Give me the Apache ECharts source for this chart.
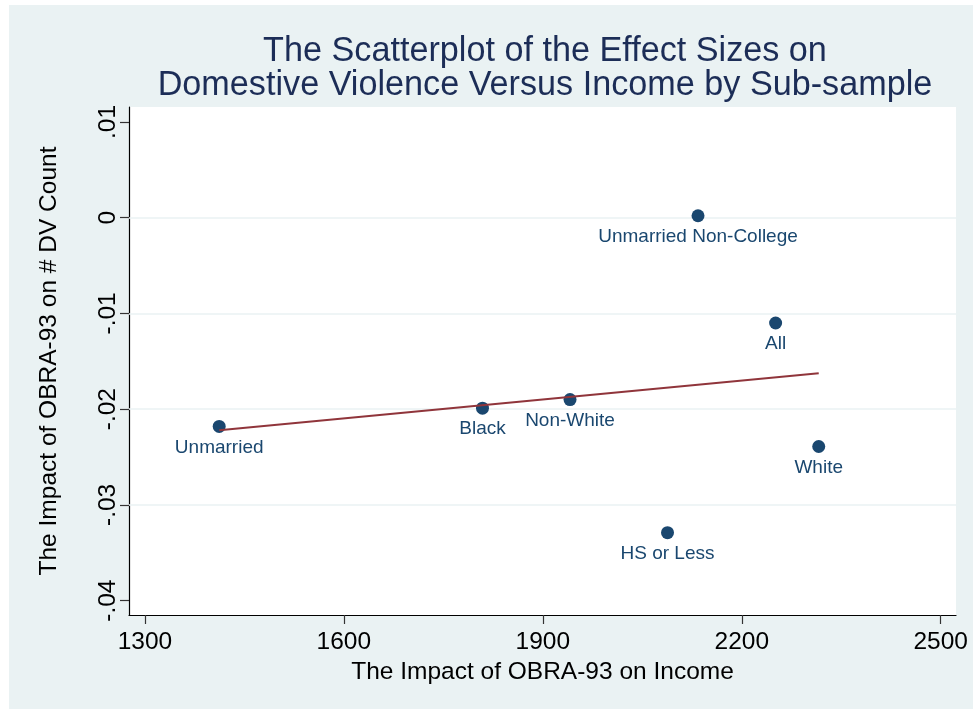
<!DOCTYPE html>
<html>
<head>
<meta charset="utf-8">
<script src="https://cdn.jsdelivr.net/npm/echarts@6/dist/echarts.min.js"></script>
<style>
html,body{margin:0;padding:0;background:#ffffff;width:973px;height:709px;overflow:hidden;}
#chart{position:absolute;left:9px;top:5px;width:964px;height:704px;}
</style>
</head>
<body>
<div id="chart"></div>
<script>
const groups = ['Unmarried', 'Black', 'Non-White', 'Unmarried Non-College', 'All', 'White', 'HS or Less'];
const income = [1412, 1809, 1941, 2134, 2251, 2316, 2088];
const dvImpact = [-0.0218, -0.0199, -0.0190, 0.0002, -0.0110, -0.0239, -0.0329];
const fitIncome = [1412, 2316];
const fitDv = [-0.0222, -0.01625];
const xTicks = [1300, 1600, 1900, 2200, 2500];
const yTicks = [-0.04, -0.03, -0.02, -0.01, 0, 0.01];
const yGrid = [-0.03, -0.02, -0.01, 0];

const FONT = "'Liberation Sans', Helvetica, Arial, sans-serif";
const NAVY = '#1A476F';

function fmtY(v) {
  const r = Math.round(v * 100) / 100;
  if (Math.abs(r) < 1e-9) return '0';
  return (r < 0 ? '-' : '') + Math.abs(r).toFixed(2).replace(/^0/, '');
}

const chart = echarts.init(document.getElementById('chart'));
chart.setOption({
  backgroundColor: '#EAF2F3',
  animation: false,
  textStyle: { fontFamily: FONT },
  title: {
    text: 'The Scatterplot of the Effect Sizes on\nDomestive Violence Versus Income by Sub-sample',
    left: 531,
    top: 25,
    textAlign: 'center',
    textStyle: { fontFamily: FONT, fontSize: 34.2, lineHeight: 34, fontWeight: 'normal', color: '#1C2D57' }
  },
  grid: {
    left: 120, top: 102, width: 827, height: 508,
    show: true, backgroundColor: '#ffffff', borderWidth: 0
  },
  xAxis: {
    type: 'value',
    min: 1276, max: 2523,
    name: 'The Impact of OBRA-93 on Income',
    nameLocation: 'middle',
    nameGap: 38,
    nameTextStyle: { fontFamily: FONT, fontSize: 24.5, color: '#000000' },
    axisLine: { show: true, onZero: false, lineStyle: { color: '#000000', width: 1.2 } },
    axisTick: { show: true, inside: false, length: 9, customValues: xTicks, lineStyle: { color: '#333333', width: 1.2 } },
    axisLabel: { show: true, customValues: xTicks, fontFamily: FONT, fontSize: 24.5, color: '#000000', margin: 15, formatter: v => String(Math.round(v)) },
    splitLine: { show: false }
  },
  yAxis: {
    type: 'value',
    min: -0.0415, max: 0.01156,
    name: 'The Impact of OBRA-93 on # DV Count',
    nameLocation: 'middle',
    nameGap: 67,
    nameRotate: 90,
    nameTextStyle: { fontFamily: FONT, fontSize: 24.5, color: '#000000' },
    axisLine: { show: true, onZero: false, lineStyle: { color: '#000000', width: 1.2 } },
    axisTick: { show: true, inside: false, length: 9, customValues: yTicks, lineStyle: { color: '#333333', width: 1.2 } },
    axisLabel: { show: true, customValues: yTicks, rotate: 90, fontFamily: FONT, fontSize: 24.5, color: '#000000', margin: 8, formatter: fmtY },
    splitLine: { show: false }
  },
  series: [
    {
      type: 'line',
      data: [],
      z: 1,
      silent: true,
      markLine: {
        silent: true,
        z: 1,
        symbol: ['none', 'none'],
        label: { show: false },
        lineStyle: { color: '#EAF2F3', width: 1.5, type: 'solid' },
        data: yGrid.map(v => ({ yAxis: v }))
      }
    },
    {
      type: 'scatter',
      z: 2,
      symbol: 'circle',
      symbolSize: 13,
      itemStyle: { color: NAVY, opacity: 1 },
      label: {
        show: true,
        position: 'bottom',
        distance: 5,
        fontFamily: FONT,
        fontSize: 19,
        color: NAVY,
        formatter: p => p.name
      },
      data: groups.map((g, i) => ({ name: g, value: [income[i], dvImpact[i]] }))
    },
    {
      type: 'line',
      z: 3,
      showSymbol: false,
      symbol: 'none',
      lineStyle: { color: '#90353B', width: 2 },
      data: fitIncome.map((x, i) => [x, fitDv[i]])
    }
  ]
});
</script>
</body>
</html>
